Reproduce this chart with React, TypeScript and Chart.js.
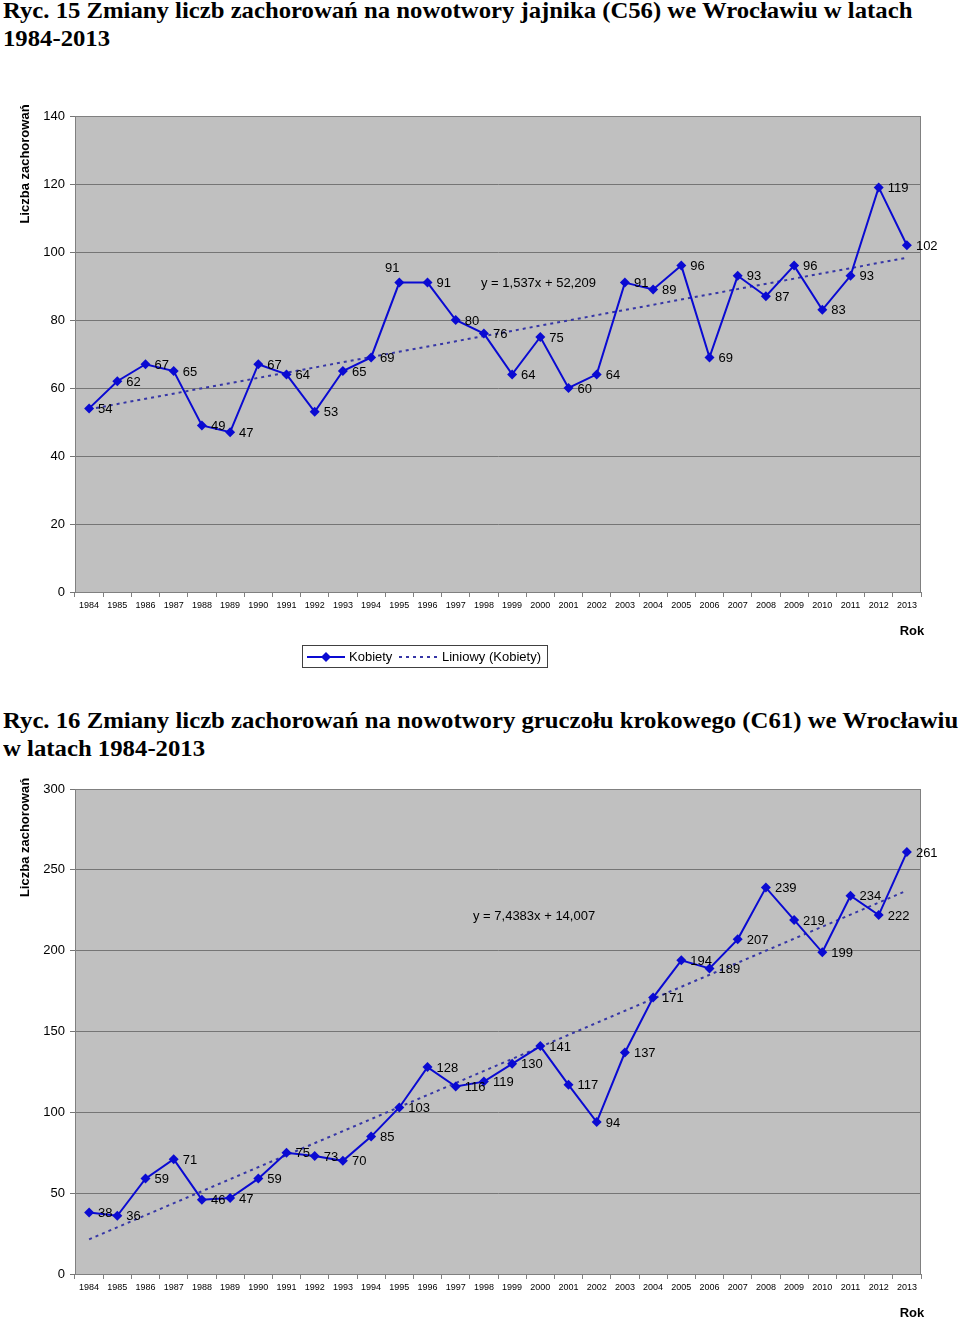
import React, { useEffect, useLayoutEffect, useRef } from "react";
import { Chart, registerables } from "chart.js";
Chart.register(...registerables);

const YEARS = [
  "1984", "1985", "1986", "1987", "1988", "1989", "1990", "1991", "1992", "1993",
  "1994", "1995", "1996", "1997", "1998", "1999", "2000", "2001", "2002", "2003",
  "2004", "2005", "2006", "2007", "2008", "2009", "2010", "2011", "2012", "2013",
];
const OVARY = [54, 62, 67, 65, 49, 47, 67, 64, 53, 65, 69, 91, 91, 80, 76, 64, 75, 60, 64, 91, 89, 96, 69, 93, 87, 96, 83, 93, 119, 102];
const PROSTATE = [38, 36, 59, 71, 46, 47, 59, 75, 73, 70, 85, 103, 128, 116, 119, 130, 141, 117, 94, 137, 171, 194, 189, 207, 239, 219, 199, 234, 222, 261];
// trend line end values (read from the fitted equations shown on the chart)
const OVARY_TREND_ENDS = [53.75, 98.32];
const PROSTATE_TREND_ENDS = [21.45, 237.16];
const OVARY_EQ = "y = 1,537x + 52,209";
const PROSTATE_EQ = "y = 7,4383x + 14,007";
const TITLE1 = ["Ryc. 15 Zmiany liczb zachorowań na nowotwory jajnika (C56) we Wrocławiu w latach", "1984-2013"];
const TITLE2 = ["Ryc. 16 Zmiany liczb zachorowań na nowotwory gruczołu krokowego (C61) we Wrocławiu", "w latach 1984-2013"];
const Y_TITLE = "Liczba zachorowań";
const X_TITLE = "Rok";
const SERIES_NAME = "Kobiety";
const TREND_NAME = "Liniowy (Kobiety)";

const SANS = "'Liberation Sans', Arial, sans-serif";
const LINE_COLOR = "#0a0ad2";
const TREND_COLOR = "#3636a6";

type Cfg = {
  values: number[];
  trendEnds: number[];
  yMax: number;
  yStep: number;
  eq: string;
  eqPos: [number, number];
  H: number;
  plotTop: number;
  plotBottom: number;
  yTitleCenter: number;
  rokY: number;
  legend: boolean;
  aboveIdx: number[];
};

function ChartBox({ cfg, top }: { cfg: Cfg; top: number }) {
  const ref = useRef<HTMLCanvasElement>(null);
  useEffect(() => {
    const n = YEARS.length;
    const trend = YEARS.map((_, i) => (i === 0 ? cfg.trendEnds[0] : i === n - 1 ? cfg.trendEnds[1] : null));
    const plugin = {
      id: "deco",
      beforeDraw(chart: any) {
        const { ctx, chartArea: a } = chart;
        ctx.save();
        ctx.fillStyle = "#c0c0c0";
        ctx.fillRect(a.left, a.top, a.right - a.left, a.bottom - a.top);
        ctx.restore();
      },
      afterDraw(chart: any) {
        const { ctx, chartArea: a } = chart;
        ctx.save();
        ctx.strokeStyle = "#808080";
        ctx.lineWidth = 1;
        ctx.strokeRect(a.left + 0.5, a.top + 0.5, a.right - a.left - 1, a.bottom - a.top);
        // data labels
        const meta = chart.getDatasetMeta(0);
        ctx.fillStyle = "#000";
        ctx.font = `13px ${SANS}`;
        ctx.textBaseline = "middle";
        meta.data.forEach((pt: any, i: number) => {
          const v = String(cfg.values[i]);
          if (cfg.aboveIdx.includes(i)) {
            ctx.textAlign = "center";
            ctx.fillText(v, pt.x - 7, pt.y - 14);
          } else {
            ctx.textAlign = "left";
            ctx.fillText(v, pt.x + 9, pt.y + 1);
          }
        });
        // equation
        ctx.textAlign = "left";
        ctx.fillText(cfg.eq, cfg.eqPos[0], cfg.eqPos[1]);
        // y title
        ctx.font = `bold 13px ${SANS}`;
        ctx.save();
        ctx.translate(25, cfg.yTitleCenter);
        ctx.rotate(-Math.PI / 2);
        ctx.textAlign = "center";
        ctx.fillText(Y_TITLE, 0, 0);
        ctx.restore();
        // x title
        ctx.textAlign = "center";
        ctx.fillText(X_TITLE, 912, cfg.rokY);
        if (cfg.legend) {
          const ly = cfg.rokY + 26;
          ctx.strokeStyle = "#404040";
          ctx.lineWidth = 1;
          ctx.strokeRect(302.5, ly - 11.5, 245, 22);
          ctx.strokeStyle = LINE_COLOR;
          ctx.lineWidth = 2;
          ctx.beginPath();
          ctx.moveTo(307, ly);
          ctx.lineTo(345, ly);
          ctx.stroke();
          ctx.fillStyle = LINE_COLOR;
          ctx.beginPath();
          ctx.moveTo(326, ly - 5);
          ctx.lineTo(331, ly);
          ctx.lineTo(326, ly + 5);
          ctx.lineTo(321, ly);
          ctx.closePath();
          ctx.fill();
          ctx.strokeStyle = TREND_COLOR;
          ctx.setLineDash([3, 4]);
          ctx.beginPath();
          ctx.moveTo(399, ly);
          ctx.lineTo(439, ly);
          ctx.stroke();
          ctx.setLineDash([]);
          ctx.fillStyle = "#000";
          ctx.font = `13px ${SANS}`;
          ctx.textAlign = "left";
          ctx.fillText(SERIES_NAME, 349, ly);
          ctx.fillText(TREND_NAME, 442, ly);
        }
        ctx.restore();
      },
    };
    const chart = new Chart(ref.current!, {
      type: "line",
      data: {
        labels: YEARS,
        datasets: [
          {
            label: SERIES_NAME,
            data: cfg.values,
            borderColor: LINE_COLOR,
            backgroundColor: LINE_COLOR,
            borderWidth: 2,
            pointStyle: "rectRot",
            pointRadius: 5,
            pointBorderWidth: 0,
            tension: 0,
          },
          {
            label: TREND_NAME,
            data: trend,
            borderColor: TREND_COLOR,
            borderWidth: 2,
            borderDash: [3, 4],
            pointRadius: 0,
            spanGaps: true,
            tension: 0,
          },
        ],
      },
      options: {
        animation: false,
        responsive: false,
        maintainAspectRatio: false,
        devicePixelRatio: 1,
        layout: { padding: { top: cfg.plotTop, right: 39, left: 0, bottom: 0 } },
        plugins: { legend: { display: false }, tooltip: { enabled: false } },
        scales: {
          x: {
            type: "category",
            offset: true,
            grid: { offset: true, drawOnChartArea: false, drawTicks: true, tickLength: 5, color: "#808080" },
            border: { color: "#808080" },
            ticks: { font: { family: SANS, size: 9 }, color: "#000", padding: 3, maxRotation: 0, autoSkip: false },
            afterFit: (s: any) => {
              s.height = cfg.H - cfg.plotBottom;
            },
          },
          y: {
            min: 0,
            max: cfg.yMax,
            ticks: { stepSize: cfg.yStep, font: { family: SANS, size: 13 }, color: "#000", padding: 5 },
            grid: { color: "#757575", tickLength: 5 },
            border: { color: "#808080" },
            afterFit: (s: any) => {
              s.width = 75;
            },
          },
        },
      },
      plugins: [plugin],
    } as any);
    return () => chart.destroy();
  }, [cfg]);
  return (
    <canvas
      ref={ref}
      width={960}
      height={cfg.H}
      style={{ position: "absolute", left: 0, top, width: 960, height: cfg.H }}
    />
  );
}

function Title({ lines, top, target }: { lines: string[]; top: number; target: number }) {
  const l1 = useRef<HTMLDivElement>(null);
  const l2 = useRef<HTMLDivElement>(null);
  useLayoutEffect(() => {
    const w = l1.current!.scrollWidth;
    const s = target / w;
    l1.current!.style.transform = `scaleX(${s})`;
    l2.current!.style.transform = `scaleX(${s})`;
  }, [target]);
  const st: React.CSSProperties = {
    position: "absolute",
    left: 3,
    whiteSpace: "nowrap",
    fontFamily: "'Liberation Serif', 'Times New Roman', serif",
    fontWeight: "bold",
    fontSize: 24,
    lineHeight: "28px",
    transformOrigin: "0 0",
    color: "#000",
  };
  return (
    <>
      <div ref={l1} style={{ ...st, top }}>{lines[0]}</div>
      <div ref={l2} style={{ ...st, top: top + 28 }}>{lines[1]}</div>
    </>
  );
}

const CFG1: Cfg = {
  values: OVARY,
  trendEnds: OVARY_TREND_ENDS,
  yMax: 140,
  yStep: 20,
  eq: OVARY_EQ,
  eqPos: [481, 193],
  H: 600,
  plotTop: 26,
  plotBottom: 502,
  yTitleCenter: 74,
  rokY: 541,
  legend: true,
  aboveIdx: [11],
};
const CFG2: Cfg = {
  values: PROSTATE,
  trendEnds: PROSTATE_TREND_ENDS,
  yMax: 300,
  yStep: 50,
  eq: PROSTATE_EQ,
  eqPos: [473, 146],
  H: 549,
  plotTop: 19,
  plotBottom: 504,
  yTitleCenter: 67.5,
  rokY: 543,
  legend: false,
  aboveIdx: [],
};

export default function App() {
  return (
    <div style={{ position: "absolute", left: 0, top: 0, width: 960, height: 1319, overflow: "hidden", background: "#fff" }}>
      <Title lines={TITLE1} top={-4} target={909} />
      <ChartBox cfg={CFG1} top={90} />
      <Title lines={TITLE2} top={706} target={955} />
      <ChartBox cfg={CFG2} top={770} />
    </div>
  );
}
